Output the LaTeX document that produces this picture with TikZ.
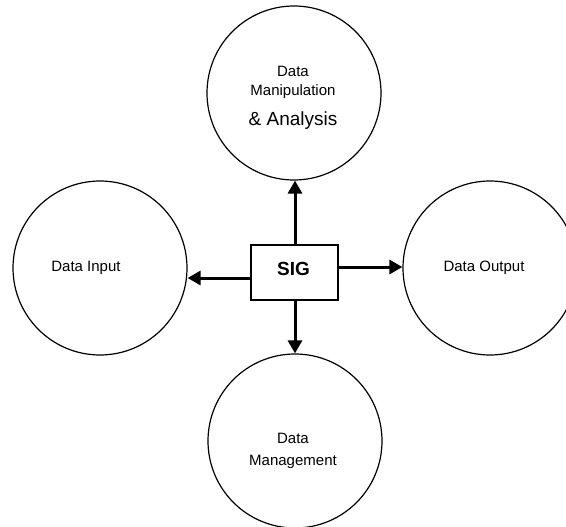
\documentclass[tikz,border=0pt]{standalone}
\usepackage{fontspec}
\setmainfont{Liberation Sans}
\usetikzlibrary{arrows.meta}
\begin{document}
\begin{tikzpicture}[x=1pt,y=-1pt,
  bubble/.style={circle,draw=black,line width=1.2pt,minimum size=174pt,inner sep=0pt},
  hub/.style={rectangle,draw=black,line width=1.6pt,minimum width=87pt,minimum height=55pt,inner sep=0pt},
  lbl/.style={anchor=base,inner sep=0pt,font=\fontsize{15}{17}\selectfont},
  biglbl/.style={anchor=base,inner sep=0pt,font=\fontsize{19}{22}\selectfont},
  flow/.style={line width=3pt,-{Triangle[length=13pt,width=14pt]}}]
  \useasboundingbox (0,0) rectangle (566,527);
  \clip (0,0) rectangle (566,527);

  % the four functional blocks around the system
  \node[bubble] (manip) at (294,93) {};
  \node[bubble] (input) at (100,268) {};
  \node[bubble] (output) at (490,268) {};
  \node[bubble] (manage) at (295,441) {};

  % central system box
  \node[hub] (sig) at (294.5,272.5) {};
  \node[anchor=base,inner sep=0pt,font=\fontsize{19}{22}\selectfont\bfseries] (sigtxt) at (293.5,275) {SIG};

  % block captions
  \node[lbl] (m1) at (293,77) {Data};
  \node[lbl] (m2) at (293,96) {Manipulation};
  \node[biglbl] (m3) at (293,126) {\&~Analysis};
  \node[lbl] (itxt) at (86,272) {Data Input};
  \node[lbl] (otxt) at (484,272) {Data Output};
  \node[lbl] (g1) at (293,443) {Data};
  \node[lbl] (g2) at (293,465) {Management};

  % flows out of the system box
  \draw[flow] ([xshift=0.5pt]sig.north) -- ([xshift=0.5pt]sig.north |- manip.south);
  \draw[flow] ([xshift=0.5pt]sig.south) -- ([xshift=0.5pt]sig.south |- manage.north);
  \draw[flow] ([yshift=-5.5pt]sig.west) -- ([yshift=-5.5pt]sig.west -| input.east);
  \draw[flow] ([yshift=5.5pt]sig.east) -- ([yshift=5.5pt]sig.east -| output.west);
\end{tikzpicture}
\end{document}
